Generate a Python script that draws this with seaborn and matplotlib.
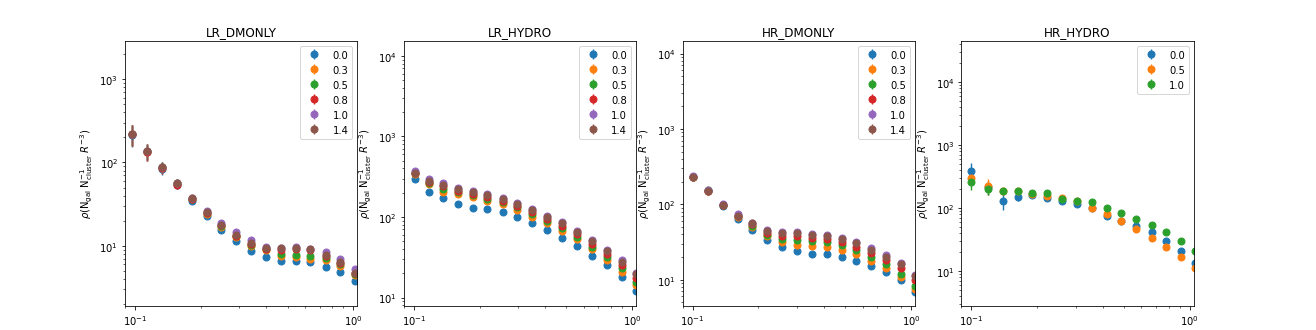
import numpy as np
import matplotlib
matplotlib.use("Agg")
import matplotlib.pyplot as plt
import seaborn as sns

# ---- data ----
labels_6 = ["0.0", "0.3", "0.5", "0.8", "1.0", "1.4"]
labels_3 = ["0.0", "0.5", "1.0"]

x_lr_dm = [0.0972, 0.113, 0.1334, 0.1554, 0.1833, 0.2128, 0.248, 0.290,
           0.340, 0.398, 0.464, 0.544, 0.636, 0.746, 0.871, 1.017]
x_lr_hy = [0.101, 0.117, 0.136, 0.159, 0.187, 0.217, 0.255, 0.298,
           0.348, 0.408, 0.478, 0.557, 0.652, 0.764, 0.894, 1.037]
x_hr_dm = [0.1007, 0.118, 0.138, 0.161, 0.188, 0.220, 0.258, 0.300,
           0.352, 0.412, 0.483, 0.562, 0.659, 0.771, 0.901, 1.047]
x_hr_hy = [0.100, 0.119, 0.1396, 0.1633, 0.190, 0.223, 0.260, 0.303,
           0.355, 0.417, 0.486, 0.570, 0.668, 0.782, 0.910, 1.054]

# LR_DMONLY
lr_dm_00 = [215, 132, 83, 54, 34.5, 22.9, 15.6, 11.4, 8.7, 7.3, 6.5, 6.55, 6.3, 5.6, 4.83, 3.77]
lr_dm_03 = [218, 135, 86, 55, 36, 24, 17, 12.8, 10.0, 8.8, 7.5, 7.4, 7.0, 6.7, 5.75, 4.45]
lr_dm_05 = [220, 136, 87, 56, 36.5, 24.5, 17.3, 13.0, 10.3, 9.1, 7.95, 7.8, 7.46, 7.06, 6.03, 4.6]
lr_dm_08 = [218, 134, 85, 53, 36.5, 24.8, 17.5, 13.2, 10.5, 9.2, 9.0, 9.2, 8.8, 7.5, 6.2, 4.7]
lr_dm_10 = [222, 137, 89, 57, 37.5, 26.3, 18.7, 14.7, 11.6, 9.7, 9.5, 9.6, 9.2, 8.47, 6.92, 5.25]
lr_dm_14 = [220, 136, 88, 56.5, 37, 25.2, 17.7, 13.4, 10.7, 9.3, 9.4, 9.5, 9.1, 7.7, 6.42, 4.7]
lr_dm_err = [0.28, 0.22, 0.15, 0.10, 0.07, 0.05, 0.05, 0.04, 0.04, 0.04, 0.03, 0.03, 0.03, 0.03, 0.03, 0.03]

# LR_HYDRO
lr_hy_00 = [295, 207, 173, 146, 131, 127, 114, 100, 84, 68.5, 55, 43.8, 32.9, 25.2, 18, 12.1]
lr_hy_03 = [340, 255, 207, 192, 177, 158, 144, 122, 100, 84, 67, 53, 40, 29, 20.8, 14.2]
lr_hy_05 = [350, 268, 221, 205, 188, 168, 152, 132, 108, 89.5, 72.6, 56.6, 42.5, 32.3, 23.6, 15.6]
lr_hy_08 = [355, 275, 240, 212, 195, 176, 158, 138, 115, 95, 78, 61, 46.5, 35, 25.4, 17.5]
lr_hy_10 = [372, 295, 261, 228, 211, 192, 172, 148, 126, 103, 86, 67, 52, 39, 29, 20]
lr_hy_14 = [355, 281, 251, 222, 203, 185, 166, 144, 122, 100, 84, 65.3, 50.5, 37.9, 28, 19.5]
lr_hy_err = [0.05, 0.04, 0.04, 0.03, 0.03, 0.03, 0.03, 0.03, 0.03, 0.03, 0.03, 0.03, 0.03, 0.03, 0.03, 0.03]

# HR_DMONLY
hr_dm_00 = [228, 150, 96, 64, 45.6, 33.9, 27.4, 24.2, 21.9, 21.9, 19.8, 17.9, 15.3, 12.8, 10, 6.9]
hr_dm_03 = [230, 152, 98, 67, 50, 37.6, 31.9, 29.1, 28.3, 27.4, 25, 21.9, 17.9, 14.3, 10.8, 7.5]
hr_dm_05 = [232, 155, 99, 69, 52, 39.5, 34.6, 33.6, 32.9, 31.3, 28.8, 25, 20.2, 16.1, 11.9, 8.3]
hr_dm_08 = [230, 152, 98, 70, 54, 42, 38.5, 38, 36, 34.5, 32, 27.5, 22.7, 18, 14.3, 10]
hr_dm_10 = [235, 154, 100, 75, 57, 46, 43, 43, 41, 39, 36, 31.5, 26, 21, 16.5, 11.5]
hr_dm_14 = [228, 151, 99, 69, 56, 44.7, 41.6, 41.3, 39.5, 37.7, 34.7, 30.4, 25, 20.2, 16.1, 11.1]
hr_dm_err = [0.05, 0.05, 0.04, 0.04, 0.03, 0.03, 0.03, 0.03, 0.03, 0.03, 0.03, 0.03, 0.03, 0.03, 0.03, 0.03]

# HR_HYDRO
hr_hy_00 = [392, 215, 130, 151, 160, 144, 127, 115, 99, 75, 63, 52.1, 40.8, 29.4, 20.4, 13.3]
hr_hy_05 = [299, 226, 183, 188, 168, 156, 142, 128, 98.6, 80, 61.8, 46.2, 33.6, 24.1, 16.5, 11]
hr_hy_10 = [262, 200, 188, 184, 171, 171, 139, 130, 123, 99.6, 83, 66.5, 53.5, 40.8, 29.7, 20.4]
hr_hy_00_err = [0.35, 0.25, 0.28, 0.15, 0.10, 0.08, 0.06, 0.05, 0.05, 0.04, 0.04, 0.04, 0.04, 0.04, 0.04, 0.04]
hr_hy_05_err = [0.15, 0.30, 0.12, 0.08, 0.06, 0.05, 0.05, 0.04, 0.04, 0.04, 0.04, 0.04, 0.04, 0.04, 0.04, 0.04]
hr_hy_10_err = [0.25, 0.20, 0.12, 0.08, 0.06, 0.05, 0.05, 0.04, 0.04, 0.04, 0.04, 0.04, 0.04, 0.04, 0.04, 0.04]

panels = [
    ("LR_DMONLY", x_lr_dm, [lr_dm_00, lr_dm_03, lr_dm_05, lr_dm_08, lr_dm_10, lr_dm_14],
     [lr_dm_err] * 6, labels_6, (1.9, 2890)),
    ("LR_HYDRO", x_lr_hy, [lr_hy_00, lr_hy_03, lr_hy_05, lr_hy_08, lr_hy_10, lr_hy_14],
     [lr_hy_err] * 6, labels_6, (7.9, 15400)),
    ("HR_DMONLY", x_hr_dm, [hr_dm_00, hr_dm_03, hr_dm_05, hr_dm_08, hr_dm_10, hr_dm_14],
     [hr_dm_err] * 6, labels_6, (4.5, 14800)),
    ("HR_HYDRO", x_hr_hy, [hr_hy_00, hr_hy_05, hr_hy_10],
     [hr_hy_00_err, hr_hy_05_err, hr_hy_10_err], labels_3, (2.77, 45900)),
]

sns.set_style("ticks", rc={"axes.edgecolor": "black", "xtick.color": "black",
                           "ytick.color": "black", "text.color": "black",
                           "axes.labelcolor": "black"})
plt.rcParams["font.family"] = ["DejaVu Sans"]
plt.rcParams["mathtext.fontset"] = "dejavusans"
colors = sns.color_palette("tab10")

fig, axes = plt.subplots(1, 4, figsize=(18.28, 4.597), dpi=72)
fig.subplots_adjust(left=0.095, right=0.907, top=0.874, bottom=0.073, wspace=0.2)

for ax, (title, x, series, errs, labels, ylim) in zip(axes, panels):
    for i, (y, ef, lab) in enumerate(zip(series, errs, labels)):
        y = np.array(y)
        ax.errorbar(x, y, yerr=y * np.array(ef), fmt="o", color=colors[i],
                    markersize=7, elinewidth=1.4, label=lab)
    ax.set_xscale("log")
    ax.set_yscale("log")
    ax.set_xlim(0.09, 1.043)
    ax.set_ylim(*ylim)
    ax.set_title(title, fontsize=12)
    ax.set_ylabel(r"$\rho$(N$_{\rm gal}$ N$^{-1}_{\rm cluster}$ $R^{-3}$)", fontsize=10)
    ax.tick_params(labelsize=10)
    ax.legend(loc="upper right", fontsize=10)

fig.savefig("out.png", dpi=72)
